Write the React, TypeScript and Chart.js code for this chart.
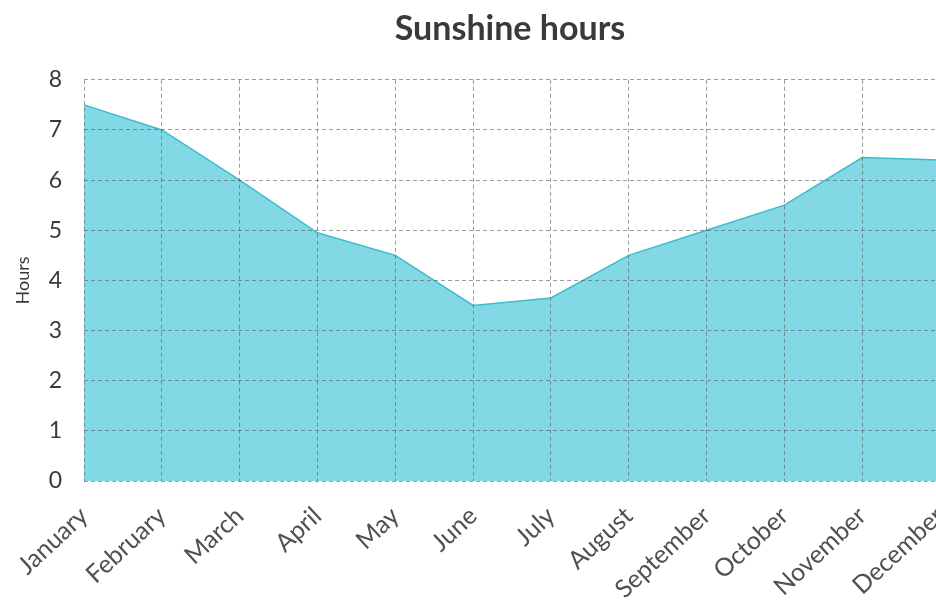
import React, { useEffect, useRef } from "react";
import { Chart, registerables } from "chart.js";

Chart.register(...registerables);

const months = [
  "January",
  "February",
  "March",
  "April",
  "May",
  "June",
  "July",
  "August",
  "September",
  "October",
  "November",
  "December",
];
const sunshineHours = [7.5, 7.0, 6.0, 4.95, 4.5, 3.5, 3.65, 4.5, 5.0, 5.5, 6.45, 6.4];
const yMin = 0;
const yMax = 8;
const yStep = 1;

export default function App() {
  const ref = useRef<HTMLCanvasElement | null>(null);

  useEffect(() => {
    if (!ref.current) return;
    const gridStyle = { color: "rgba(90,90,90,0.6)", lineWidth: 1, drawTicks: false, z: 1 };
    const chart = new Chart(ref.current, {
      type: "line",
      data: {
        labels: months,
        datasets: [
          {
            data: sunshineHours,
            fill: "origin",
            backgroundColor: "#82d8e5",
            borderColor: "#3dbcca",
            borderWidth: 1.5,
            pointRadius: 0,
            tension: 0,
          },
        ],
      },
      options: {
        animation: false,
        responsive: false,
        layout: { padding: 0 },
        plugins: {
          legend: { display: false },
          tooltip: { enabled: false },
          title: {
            display: true,
            text: "Sunshine hours",
            color: "#3a3a3a",
            font: { family: "Lato", size: 34, weight: "bold" },
            padding: { top: 9, bottom: 30 },
          },
        },
        scales: {
          x: {
            offset: false,
            grid: gridStyle,
            border: { display: false, dash: [4, 3] },
            ticks: {
              autoSkip: false,
              minRotation: 43,
              maxRotation: 43,
              padding: 20,
              color: "#505050",
              font: { family: "Lato", size: 25 },
            },
            afterFit: (s: any) => {
              s.height = 129;
            },
          },
          y: {
            min: yMin,
            max: yMax,
            grid: gridStyle,
            border: { display: false, dash: [4, 3] },
            ticks: {
              stepSize: yStep,
              padding: 22,
              color: "#3a3a3a",
              font: { family: "Lato", size: 23 },
            },
            title: {
              display: true,
              text: "Hours",
              color: "#3a3a3a",
              font: { family: "Lato", size: 18 },
              padding: { top: 12, bottom: 0 },
            },
            afterFit: (s: any) => {
              s.width = 84;
            },
          },
          spacer: {
            type: "linear",
            position: "right",
            display: true,
            grid: { display: false, drawTicks: false },
            border: { display: false },
            ticks: { display: false },
            afterFit: (s: any) => {
              s.width = 80;
            },
          },
        },
      },
    });
    return () => chart.destroy();
  }, []);

  return (
    <div
      style={{
        position: "fixed",
        left: 0,
        top: 0,
        width: 936,
        height: 610,
        overflow: "hidden",
        background: "#fff",
      }}
    >
      <canvas ref={ref} width={1020} height={610} style={{ display: "block" }} />
    </div>
  );
}
